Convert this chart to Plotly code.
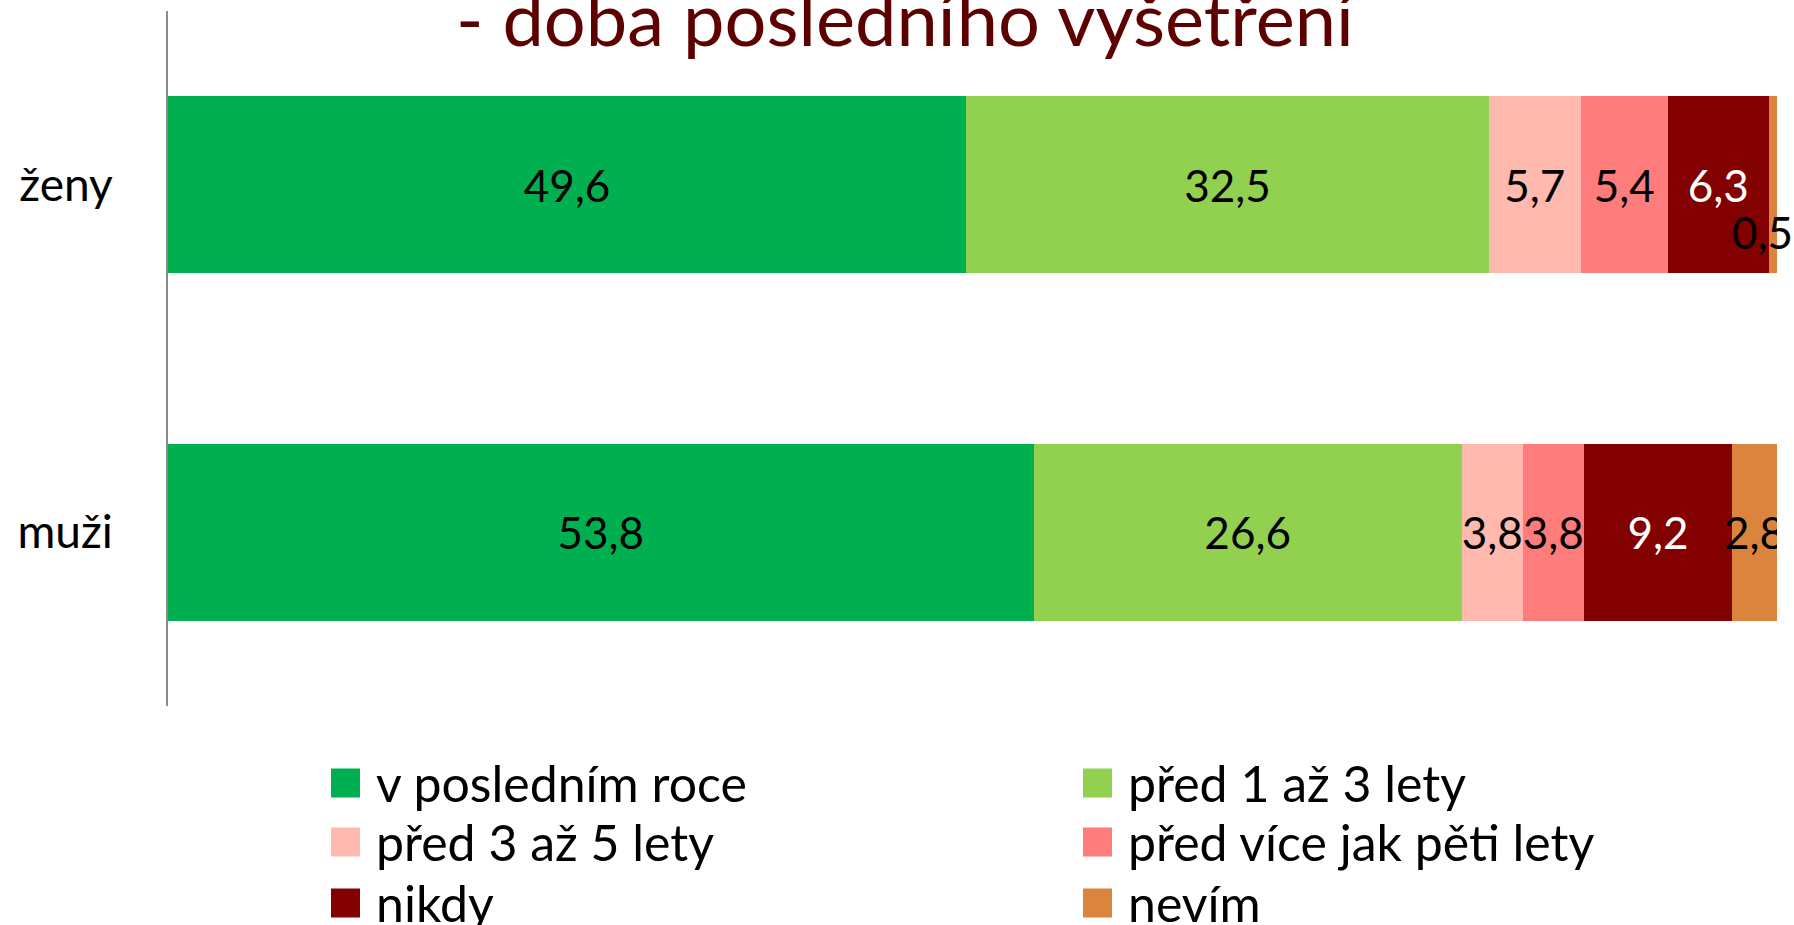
import plotly.graph_objects as go

categories = ["ženy", "muži"]
series_names = ["v posledním roce", "před 1 až 3 lety", "před 3 až 5 lety",
                "před více jak pěti lety", "nikdy", "nevím"]
zeny = [49.6, 32.5, 5.7, 5.4, 6.3, 0.5]
muzi = [53.8, 26.6, 3.8, 3.8, 9.2, 2.8]
colors = ["#00B050", "#92D050", "#FFB9AE", "#FF7C7C", "#820000", "#DB843E"]
label_colors = ["black", "black", "black", "black", "white", "black"]
title_text = "- doba posledního vyšetření"

W, H = 1794, 925
L, R, T, B = 168, 1777, 11, 706


def px(x):
    return (x - L) / (R - L)


def py(y):
    return (B - y) / (B - T)


fig = go.Figure()
for i, name in enumerate(series_names):
    vals = [zeny[i], muzi[i]]
    texts = [("" if v < 1 else f"{v:.1f}".replace(".", ",")) for v in vals]
    fig.add_trace(go.Bar(
        y=categories, x=vals, name=name, orientation="h",
        marker=dict(color=colors[i], line=dict(width=0)),
        text=texts, textposition="inside", insidetextanchor="middle",
        constraintext="none", textangle=0,
        textfont=dict(family="Lato", size=44, color=label_colors[i]),
        showlegend=False,
    ))

annotations = []
# small value label (0,5) drawn below the tiny segment
for ci, row in enumerate([zeny, muzi]):
    for i, v in enumerate(row):
        if v < 1:
            annotations.append(dict(
                x=sum(row[:i + 1]), y=categories[ci], xref="x", yref="y",
                text=f"{v:.1f}".replace(".", ","), showarrow=False,
                xshift=-15, yshift=-47,
                font=dict(family="Lato", size=44, color="black")))

# title (partially cut off at top)
annotations.append(dict(
    x=px(906), y=py(18), xref="paper", yref="paper", text=title_text,
    showarrow=False, xanchor="center", yanchor="middle",
    font=dict(family="Lato", size=74, color="#5C0000")))

# legend (two columns)
shapes = []
leg_cols = [331, 1083]
leg_rows = [783, 842, 903]
sq = 29
for i, name in enumerate(series_names):
    cx = leg_cols[i % 2]
    cy = leg_rows[i // 2]
    shapes.append(dict(type="rect", xref="paper", yref="paper",
                       x0=px(cx), x1=px(cx + sq), y0=py(cy + sq / 2), y1=py(cy - sq / 2),
                       fillcolor=colors[i], line=dict(width=0)))
    annotations.append(dict(
        x=px(cx + sq + 14), y=py(cy), xref="paper", yref="paper", text=name,
        showarrow=False, xanchor="left", yanchor="middle",
        font=dict(family="Lato", size=50, color="black")))

fig.update_layout(
    width=W, height=H,
    margin=dict(l=L, r=W - R, t=T, b=H - B, pad=0, autoexpand=False),
    barmode="stack", bargap=0.49,
    plot_bgcolor="white", paper_bgcolor="white",
    annotations=annotations, shapes=shapes,
    xaxis=dict(range=[0, 100], visible=False, showgrid=False, zeroline=False),
    yaxis=dict(categoryorder="array", categoryarray=categories, autorange="reversed",
               showgrid=False, zeroline=False, showline=True, linecolor="#8C8C8C",
               linewidth=2, ticks="", ticklabelstandoff=44, automargin=False,
               tickfont=dict(family="Lato", size=46, color="black")),
)

fig.write_html("out.html", config={"displayModeBar": False},
               post_script="document.body.style.margin='0';document.body.style.overflow='hidden';")
